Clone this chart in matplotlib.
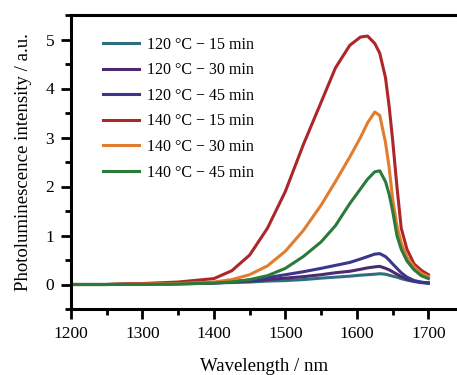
import matplotlib
matplotlib.use("Agg")
import matplotlib.pyplot as plt
from matplotlib.ticker import MultipleLocator

plt.rcParams['font.family'] = ['Liberation Serif', 'DejaVu Serif']

wl = [1200, 1250, 1300, 1350, 1400, 1425, 1450, 1475, 1500, 1525, 1550, 1570,
      1590, 1605, 1615, 1625, 1632, 1640, 1645, 1650, 1656, 1662, 1670, 1680,
      1690, 1700]

t120_15 = [0.0, 0.0, 0.01, 0.01, 0.03, 0.04, 0.05, 0.07, 0.08, 0.1, 0.13, 0.15,
           0.17, 0.19, 0.2, 0.21, 0.22, 0.21, 0.19, 0.17, 0.15, 0.12, 0.09, 0.06,
           0.04, 0.03]
t120_30 = [0.0, 0.0, 0.01, 0.02, 0.03, 0.05, 0.07, 0.1, 0.13, 0.16, 0.2, 0.24,
           0.27, 0.31, 0.34, 0.36, 0.37, 0.33, 0.3, 0.26, 0.21, 0.16, 0.11, 0.07,
           0.04, 0.03]
t120_45 = [0.0, 0.0, 0.01, 0.02, 0.04, 0.06, 0.09, 0.14, 0.2, 0.26, 0.33, 0.39,
           0.45, 0.52, 0.57, 0.62, 0.63, 0.57, 0.5, 0.42, 0.33, 0.24, 0.15, 0.08,
           0.05, 0.03]
t140_15 = [0.0, 0.0, 0.02, 0.05, 0.12, 0.28, 0.6, 1.15, 1.9, 2.85, 3.72, 4.42,
           4.88, 5.05, 5.07, 4.92, 4.72, 4.22, 3.65, 2.95, 2.0, 1.15, 0.72, 0.42,
           0.29, 0.2]
t140_30 = [0.0, 0.0, 0.01, 0.02, 0.05, 0.1, 0.2, 0.38, 0.68, 1.1, 1.62, 2.1,
           2.6, 3.0, 3.3, 3.52, 3.45, 2.9, 2.4, 1.75, 1.2, 0.85, 0.56, 0.36,
           0.23, 0.16]
t140_45 = [0.0, 0.0, 0.0, 0.01, 0.03, 0.05, 0.1, 0.18, 0.33, 0.57, 0.87, 1.2,
           1.65, 1.95, 2.15, 2.3, 2.32, 2.1, 1.85, 1.5, 1.0, 0.72, 0.48, 0.3,
           0.18, 0.12]

series = [t120_15, t120_30, t120_45, t140_15, t140_30, t140_45]
labels = ['120 °C − 15 min', '120 °C − 30 min', '120 °C − 45 min',
          '140 °C − 15 min', '140 °C − 30 min', '140 °C − 45 min']
colors = ['#2e6e7e', '#4b2a72', '#3a368e', '#ad262a', '#e07d2e', '#2a7a3a']

fig = plt.figure(figsize=(4.57, 3.75), dpi=100)
ax = fig.add_axes([0.155, 0.176, 0.845, 0.784])

for y, lab, c in zip(series, labels, colors):
    ax.plot(wl, y, color=c, lw=2.2, label=lab)

ax.set_xlim(1200, 1740)
ax.set_ylim(-0.5, 5.5)
ax.xaxis.set_major_locator(MultipleLocator(100))
ax.xaxis.set_minor_locator(MultipleLocator(50))
ax.yaxis.set_major_locator(MultipleLocator(1))
ax.yaxis.set_minor_locator(MultipleLocator(0.5))
ax.tick_params(which='major', direction='out', length=7, width=2,
               labelsize=12.5, pad=5)
ax.tick_params(which='minor', direction='out', length=4.5, width=2)
for s in ['left', 'bottom', 'top']:
    ax.spines[s].set_linewidth(2.2)
ax.spines['right'].set_visible(False)

ax.set_xlabel('Wavelength / nm', fontsize=13.5, labelpad=12)
ax.set_ylabel('Photoluminescence intensity / a.u.', fontsize=13.5, labelpad=10)

ax.legend(loc='upper left', bbox_to_anchor=(0.045, 0.975), frameon=False,
          fontsize=11.5, handlelength=2.3, labelspacing=0.6, handletextpad=0.5)

fig.savefig('out.png', dpi=100)
